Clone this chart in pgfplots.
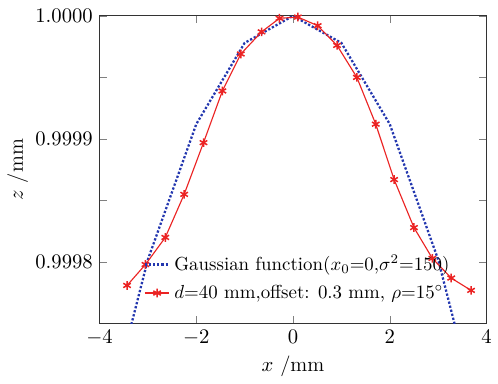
\documentclass[border=0pt]{standalone}
\usepackage{pgfplots}
\pgfplotsset{compat=1.18}
\definecolor{myred}{RGB}{235,35,35}
\definecolor{myblue}{RGB}{35,55,175}
\begin{document}
\begin{tikzpicture}
\begin{axis}[
  scale only axis,
  width=205pt, height=163pt,
  xmin=-4, xmax=4, ymin=0.99975, ymax=1.0,
  xtick={-4,-2,0,2,4},
  ytick={0.9998,0.9999,1.0},
  minor ytick={0.99975,0.99985,0.99995},
  yticklabel style={/pgf/number format/.cd,fixed,fixed zerofill,precision=4},
  tick label style={font=\fontsize{10.8}{13}\selectfont},
  label style={font=\fontsize{11}{13}\selectfont},
  tick align=inside,
  major tick length=4pt, minor tick length=4pt,
  axis line style={line width=0.5pt,black!80},
  xlabel={$x$ /mm}, ylabel={$z$ /mm},
  xlabel style={yshift=1pt},
  ylabel style={yshift=-3pt},
  legend cell align=left,
  legend style={draw=none, fill=none, at={(0.113,0.235)}, anchor=north west,
    inner sep=0pt, row sep=2pt, font=\normalsize},
  legend image code/.code={\draw[#1] plot coordinates {(0cm,0cm) (0.46cm,0cm)};},
]
\addplot[myblue, line width=1.2pt, densely dotted,
  legend image code/.code={\draw[myblue, line width=1.2pt, densely dotted] (0cm,0cm) -- (0.46cm,0cm);}]
  coordinates {
  (-4,0.999648) (-3,0.999802) (-2,0.999912) (-1,0.999978) (0,1.0)
  (1,0.999978) (2,0.999912) (3,0.999802) (4,0.999648)};
\addlegendentry{Gaussian function($x_0$=0,$\sigma^2$=150)}
\addplot[myred, line width=0.6pt, mark=asterisk, mark size=2.3pt,
  mark options={solid, line width=0.8pt},
  legend image code/.code={\draw[myred, line width=0.6pt] (0cm,0cm) -- (0.46cm,0cm);
     \draw[myred, line width=0.8pt] plot[mark=asterisk, mark size=2.3pt] coordinates {(0.23cm,0cm)};}]
  coordinates {
  (-3.43,0.999781) (-3.05,0.999798) (-2.64,0.999820) (-2.25,0.999855)
  (-1.85,0.999897) (-1.46,0.999939) (-1.08,0.999969) (-0.65,0.999987)
  (-0.28,0.999998) (0.10,0.999999) (0.51,0.999992) (0.91,0.999976)
  (1.32,0.999950) (1.71,0.999912) (2.09,0.999867) (2.50,0.999828)
  (2.88,0.999803) (3.27,0.999787) (3.68,0.999777)};
\addlegendentry{$d$=40 mm,offset: 0.3 mm, $\rho$=15$^\circ$}
\end{axis}
\path ([shift={(-52.7pt,-27.7pt)}]current axis.south west) rectangle ([shift={(2.5pt,8.4pt)}]current axis.north east);
\end{tikzpicture}
\end{document}
